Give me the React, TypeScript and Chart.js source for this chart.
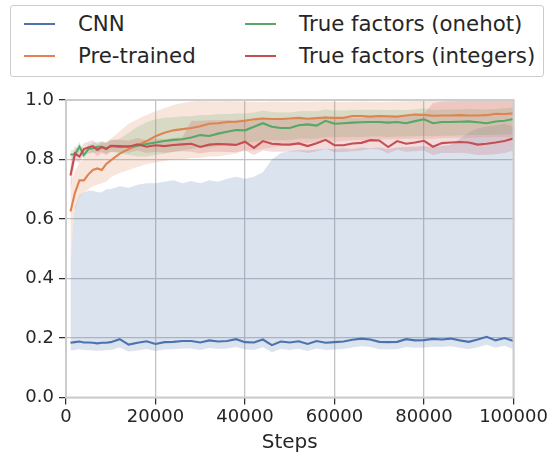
import React, { useEffect, useRef } from "react";
import { Chart, registerables } from "chart.js";

Chart.register(...registerables);

const steps = [
  1000, 2000, 3000, 4000, 5000, 6000, 7000, 8000, 9000, 10000,
  12000, 14000, 16000, 18000, 20000, 22000, 24000, 26000, 28000, 30000,
  32000, 34000, 36000, 38000, 40000, 42000, 44000, 46000, 48000, 50000,
  52000, 54000, 56000, 58000, 60000, 62000, 64000, 66000, 68000, 70000,
  72000, 74000, 76000, 78000, 80000, 82000, 84000, 86000, 88000, 90000,
  92000, 94000, 96000, 98000, 100000,
];

const cnnMean = [
  0.184, 0.186, 0.188, 0.185, 0.185, 0.184, 0.182, 0.184, 0.184, 0.186,
  0.196, 0.178, 0.184, 0.189, 0.18, 0.186, 0.187, 0.19, 0.19, 0.185,
  0.192, 0.188, 0.19, 0.196, 0.186, 0.185, 0.195, 0.176, 0.188, 0.185,
  0.189, 0.18, 0.19, 0.184, 0.186, 0.188, 0.194, 0.198, 0.195, 0.187,
  0.186, 0.187, 0.196, 0.192, 0.193, 0.197, 0.195, 0.198, 0.192, 0.187,
  0.195, 0.204, 0.192, 0.2, 0.19,
];
const cnnLower = [
  0.158, 0.16, 0.162, 0.16, 0.159, 0.158, 0.157, 0.158, 0.159, 0.16,
  0.168, 0.155, 0.158, 0.163, 0.156, 0.161, 0.162, 0.165, 0.165, 0.16,
  0.166, 0.163, 0.165, 0.17, 0.161, 0.16, 0.169, 0.152, 0.163, 0.16,
  0.164, 0.156, 0.165, 0.16, 0.161, 0.163, 0.168, 0.172, 0.17, 0.162,
  0.161, 0.162, 0.17, 0.167, 0.168, 0.171, 0.17, 0.172, 0.167, 0.162,
  0.169, 0.177, 0.167, 0.174, 0.162,
];
const cnnUpper = [
  0.45, 0.64, 0.68, 0.69, 0.695, 0.695, 0.69, 0.69, 0.7, 0.7,
  0.71, 0.705, 0.715, 0.72, 0.72, 0.725, 0.73, 0.72, 0.728, 0.72,
  0.73, 0.725, 0.735, 0.742, 0.735, 0.742, 0.757, 0.8, 0.822, 0.828,
  0.832, 0.83, 0.834, 0.836, 0.835, 0.838, 0.835, 0.84, 0.838, 0.84,
  0.835, 0.84, 0.842, 0.843, 0.845, 0.84, 0.845, 0.85, 0.87, 0.89,
  0.905, 0.91, 0.915, 0.92, 0.91,
];

const pretrainedMean = [
  0.625, 0.688, 0.73, 0.73, 0.75, 0.765, 0.77, 0.765, 0.785, 0.797,
  0.82, 0.835, 0.848, 0.862, 0.878, 0.89, 0.898, 0.902, 0.906, 0.912,
  0.92, 0.922, 0.926, 0.927, 0.93, 0.935, 0.938, 0.936, 0.936, 0.938,
  0.94, 0.937, 0.939, 0.941, 0.94, 0.94, 0.946, 0.946, 0.944, 0.946,
  0.945, 0.944, 0.948, 0.951, 0.95, 0.947, 0.948, 0.948, 0.949, 0.948,
  0.948, 0.949, 0.954, 0.953, 0.955,
];
const pretrainedLower = [
  0.45, 0.63, 0.675, 0.69, 0.7, 0.71, 0.715, 0.72, 0.725, 0.74,
  0.755, 0.765, 0.775, 0.785, 0.79, 0.795, 0.8, 0.8, 0.805, 0.805,
  0.81, 0.81, 0.815, 0.82, 0.83, 0.83, 0.835, 0.84, 0.845, 0.85,
  0.855, 0.855, 0.86, 0.86, 0.86, 0.862, 0.865, 0.865, 0.865, 0.867,
  0.868, 0.868, 0.87, 0.87, 0.87, 0.87, 0.872, 0.872, 0.873, 0.873,
  0.874, 0.875, 0.876, 0.876, 0.877,
];
const pretrainedUpper = [
  0.72, 0.76, 0.79, 0.8, 0.82, 0.84, 0.845, 0.855, 0.86, 0.87,
  0.895, 0.92, 0.935, 0.95, 0.962, 0.972, 0.983, 0.99, 0.995, 0.997,
  0.996, 0.995, 0.997, 0.996, 0.995, 0.994, 0.993, 0.995, 0.994, 0.993,
  0.994, 0.993, 0.994, 0.995, 0.994, 0.993, 0.994, 0.995, 0.994, 0.993,
  0.994, 0.995, 0.996, 0.997, 0.998, 0.999, 1.0, 1.0, 1.0, 0.999,
  1.0, 1.0, 1.0, 1.0, 1.0,
];

const onehotMean = [
  0.817, 0.817, 0.843, 0.815, 0.835, 0.838, 0.843, 0.843, 0.838, 0.845,
  0.842, 0.845, 0.846, 0.852, 0.857, 0.862, 0.866, 0.868, 0.874, 0.882,
  0.879, 0.887, 0.893, 0.899, 0.898, 0.91, 0.922, 0.91, 0.906, 0.906,
  0.915, 0.918, 0.914, 0.93, 0.92, 0.922, 0.924, 0.925, 0.926, 0.926,
  0.924, 0.926, 0.922, 0.929, 0.935, 0.922, 0.926, 0.926, 0.927, 0.928,
  0.925, 0.922, 0.928, 0.93, 0.936,
];
const onehotLower = [
  0.8, 0.8, 0.825, 0.8, 0.82, 0.822, 0.825, 0.826, 0.82, 0.826,
  0.82, 0.815, 0.81, 0.81, 0.815, 0.82, 0.825, 0.83, 0.835, 0.84,
  0.84, 0.845, 0.85, 0.855, 0.855, 0.86, 0.865, 0.865, 0.865, 0.865,
  0.87, 0.87, 0.87, 0.875, 0.875, 0.875, 0.876, 0.876, 0.877, 0.877,
  0.876, 0.877, 0.877, 0.878, 0.88, 0.878, 0.88, 0.88, 0.881, 0.882,
  0.882, 0.882, 0.883, 0.884, 0.885,
];
const onehotUpper = [
  0.833, 0.833, 0.86, 0.83, 0.85, 0.855, 0.86, 0.86, 0.856, 0.864,
  0.87, 0.89, 0.91, 0.925, 0.935, 0.94, 0.942, 0.945, 0.945, 0.95,
  0.95, 0.952, 0.953, 0.955, 0.955, 0.958, 0.965, 0.96, 0.958, 0.958,
  0.962, 0.963, 0.962, 0.968, 0.965, 0.965, 0.966, 0.967, 0.967, 0.967,
  0.966, 0.967, 0.966, 0.968, 0.972, 0.966, 0.968, 0.968, 0.969, 0.97,
  0.969, 0.968, 0.97, 0.972, 0.975,
];

const integersMean = [
  0.746, 0.82, 0.81, 0.835, 0.84, 0.845, 0.832, 0.842, 0.835, 0.846,
  0.845, 0.843, 0.851, 0.843, 0.848, 0.845, 0.849, 0.851, 0.853, 0.842,
  0.85, 0.852, 0.851, 0.849, 0.86, 0.839, 0.862, 0.853, 0.851, 0.85,
  0.854, 0.845, 0.855, 0.866, 0.848, 0.848, 0.854, 0.856, 0.865, 0.864,
  0.842, 0.862, 0.853, 0.857, 0.863, 0.843, 0.855, 0.857, 0.859, 0.857,
  0.85, 0.853, 0.857, 0.862, 0.871,
];
const integersLower = [
  0.7, 0.795, 0.79, 0.815, 0.82, 0.825, 0.812, 0.822, 0.815, 0.826,
  0.825, 0.823, 0.83, 0.822, 0.826, 0.823, 0.826, 0.828, 0.826, 0.82,
  0.825, 0.826, 0.825, 0.824, 0.83, 0.815, 0.83, 0.826, 0.826, 0.826,
  0.828, 0.822, 0.828, 0.835, 0.824, 0.825, 0.828, 0.83, 0.835, 0.834,
  0.82, 0.833, 0.826, 0.828, 0.83, 0.815, 0.822, 0.822, 0.823, 0.82,
  0.815, 0.816, 0.818, 0.822, 0.83,
];
const integersUpper = [
  0.79, 0.845, 0.83, 0.855, 0.86, 0.865, 0.852, 0.862, 0.855, 0.866,
  0.866, 0.864, 0.872, 0.865, 0.87, 0.868, 0.872, 0.875, 0.93, 0.93,
  0.932, 0.932, 0.933, 0.933, 0.935, 0.93, 0.94, 0.935, 0.935, 0.935,
  0.937, 0.935, 0.938, 0.945, 0.937, 0.938, 0.94, 0.94, 0.945, 0.945,
  0.94, 0.945, 0.945, 0.948, 0.955, 0.99, 0.995, 0.996, 0.997, 0.998,
  0.998, 0.999, 1.0, 1.0, 1.0,
];

const xTicks = [0, 20000, 40000, 60000, 80000, 100000];
const yTicks = [0, 0.2, 0.4, 0.6, 0.8, 1.0];

const seriesNames = ["CNN", "Pre-trained", "True factors (onehot)", "True factors (integers)"];
const seriesColors = ["#4c72b0", "#dd8452", "#55a868", "#c44e52"];
const bandColors = [
  "rgba(76,114,176,0.2)",
  "rgba(221,132,82,0.2)",
  "rgba(85,168,104,0.2)",
  "rgba(196,78,82,0.2)",
];

const FONT = "'DejaVu Sans', sans-serif";
const TEXT = "#262626";

const pts = (arr: number[]) => steps.map((s, i) => ({ x: s, y: arr[i] }));

const frame = {
  id: "frame",
  afterDatasetsDraw(chart: any) {
    const { ctx, chartArea: a } = chart;
    ctx.save();
    ctx.strokeStyle = "#cccccc";
    ctx.lineWidth = 2;
    ctx.strokeRect(a.left, a.top, a.right - a.left, a.bottom - a.top);
    ctx.restore();
  },
};

export default function App() {
  const ref = useRef<HTMLCanvasElement | null>(null);

  useEffect(() => {
    if (!ref.current) return;
    const groups = [
      { mean: cnnMean, lo: cnnLower, hi: cnnUpper },
      { mean: pretrainedMean, lo: pretrainedLower, hi: pretrainedUpper },
      { mean: onehotMean, lo: onehotLower, hi: onehotUpper },
      { mean: integersMean, lo: integersLower, hi: integersUpper },
    ];
    const datasets: any[] = [];
    for (let g = groups.length - 1; g >= 0; g--) {
      const gr = groups[g];
      datasets.push({
        label: seriesNames[g],
        data: pts(gr.mean),
        borderColor: seriesColors[g],
        borderWidth: 2.1,
        pointRadius: 0,
        fill: false,
        tension: 0,
      });
      datasets.push({
        label: seriesNames[g] + " upper",
        data: pts(gr.hi),
        borderWidth: 0,
        borderColor: "rgba(0,0,0,0)",
        backgroundColor: bandColors[g],
        pointRadius: 0,
        fill: "+1",
      });
      datasets.push({
        label: seriesNames[g] + " lower",
        data: pts(gr.lo),
        borderWidth: 0,
        borderColor: "rgba(0,0,0,0)",
        pointRadius: 0,
        fill: false,
      });
    }

    const chart = new Chart(ref.current, {
      type: "line",
      data: { datasets },
      options: {
        animation: false,
        responsive: false,
        devicePixelRatio: window.devicePixelRatio,
        layout: { padding: { top: 100, right: 39.5, left: 0, bottom: 0 } },
        plugins: {
          legend: { display: false },
          tooltip: { enabled: false },
          filler: { drawTime: "beforeDatasetsDraw" },
        } as any,
        scales: {
          x: {
            type: "linear",
            min: 0,
            max: 100000,
            afterBuildTicks: (s: any) => {
              s.ticks = xTicks.map((v) => ({ value: v }));
            },
            afterFit: (s: any) => {
              s.height = 58.5;
            },
            ticks: {
              color: TEXT,
              font: { family: FONT, size: 18 },
              padding: 2,
              maxRotation: 0,
              callback: (v: any) => String(v),
            },
            grid: {
              color: "#c4c4c8",
              lineWidth: 1.3,
              drawTicks: true,
              tickLength: 7,
              tickColor: TEXT,
              tickWidth: 1.2,
            },
            border: { display: false },
            title: {
              display: true,
              text: "Steps",
              color: TEXT,
              font: { family: FONT, size: 20 },
              padding: { top: 0, bottom: 1 },
            },
          },
          y: {
            type: "linear",
            min: 0,
            max: 1,
            afterBuildTicks: (s: any) => {
              s.ticks = yTicks.map((v) => ({ value: v }));
            },
            afterFit: (s: any) => {
              s.width = 66;
            },
            ticks: {
              color: TEXT,
              font: { family: FONT, size: 18 },
              padding: 5,
              callback: (v: any) => Number(v).toFixed(1),
            },
            grid: {
              color: "#c4c4c8",
              lineWidth: 1.3,
              drawTicks: true,
              tickLength: 7,
              tickColor: TEXT,
              tickWidth: 1.2,
            },
            border: { display: false },
          },
        },
      },
      plugins: [frame],
    });
    return () => chart.destroy();
  }, []);

  const legendItems = [
    { i: 0, left: 24, top: 24 },
    { i: 1, left: 24, top: 56 },
    { i: 2, left: 245, top: 24 },
    { i: 3, left: 245, top: 56 },
  ];

  return (
    <div style={{ position: "fixed", left: 0, top: 0, width: 553, height: 456, background: "#fff" }}>
      <canvas ref={ref} width={553} height={456} style={{ position: "absolute", left: 0, top: 0, width: 553, height: 456 }} />
      <div
        style={{
          position: "absolute",
          left: 10,
          top: 5,
          width: 534,
          height: 72,
          border: "1.5px solid #cccccc",
          borderRadius: 3,
          background: "#fff",
          boxSizing: "border-box",
        }}
      />
      {legendItems.map((it) => (
        <React.Fragment key={it.i}>
          <div
            style={{
              position: "absolute",
              left: it.left,
              top: it.top - 1,
              width: 31,
              height: 2,
              background: seriesColors[it.i],
            }}
          />
          <div
            style={{
              position: "absolute",
              left: it.left + 54,
              top: it.top - 13,
              height: 26,
              lineHeight: "26px",
              fontFamily: FONT,
              fontSize: 21.3,
              color: TEXT,
              whiteSpace: "nowrap",
            }}
          >
            {seriesNames[it.i]}
          </div>
        </React.Fragment>
      ))}
    </div>
  );
}
